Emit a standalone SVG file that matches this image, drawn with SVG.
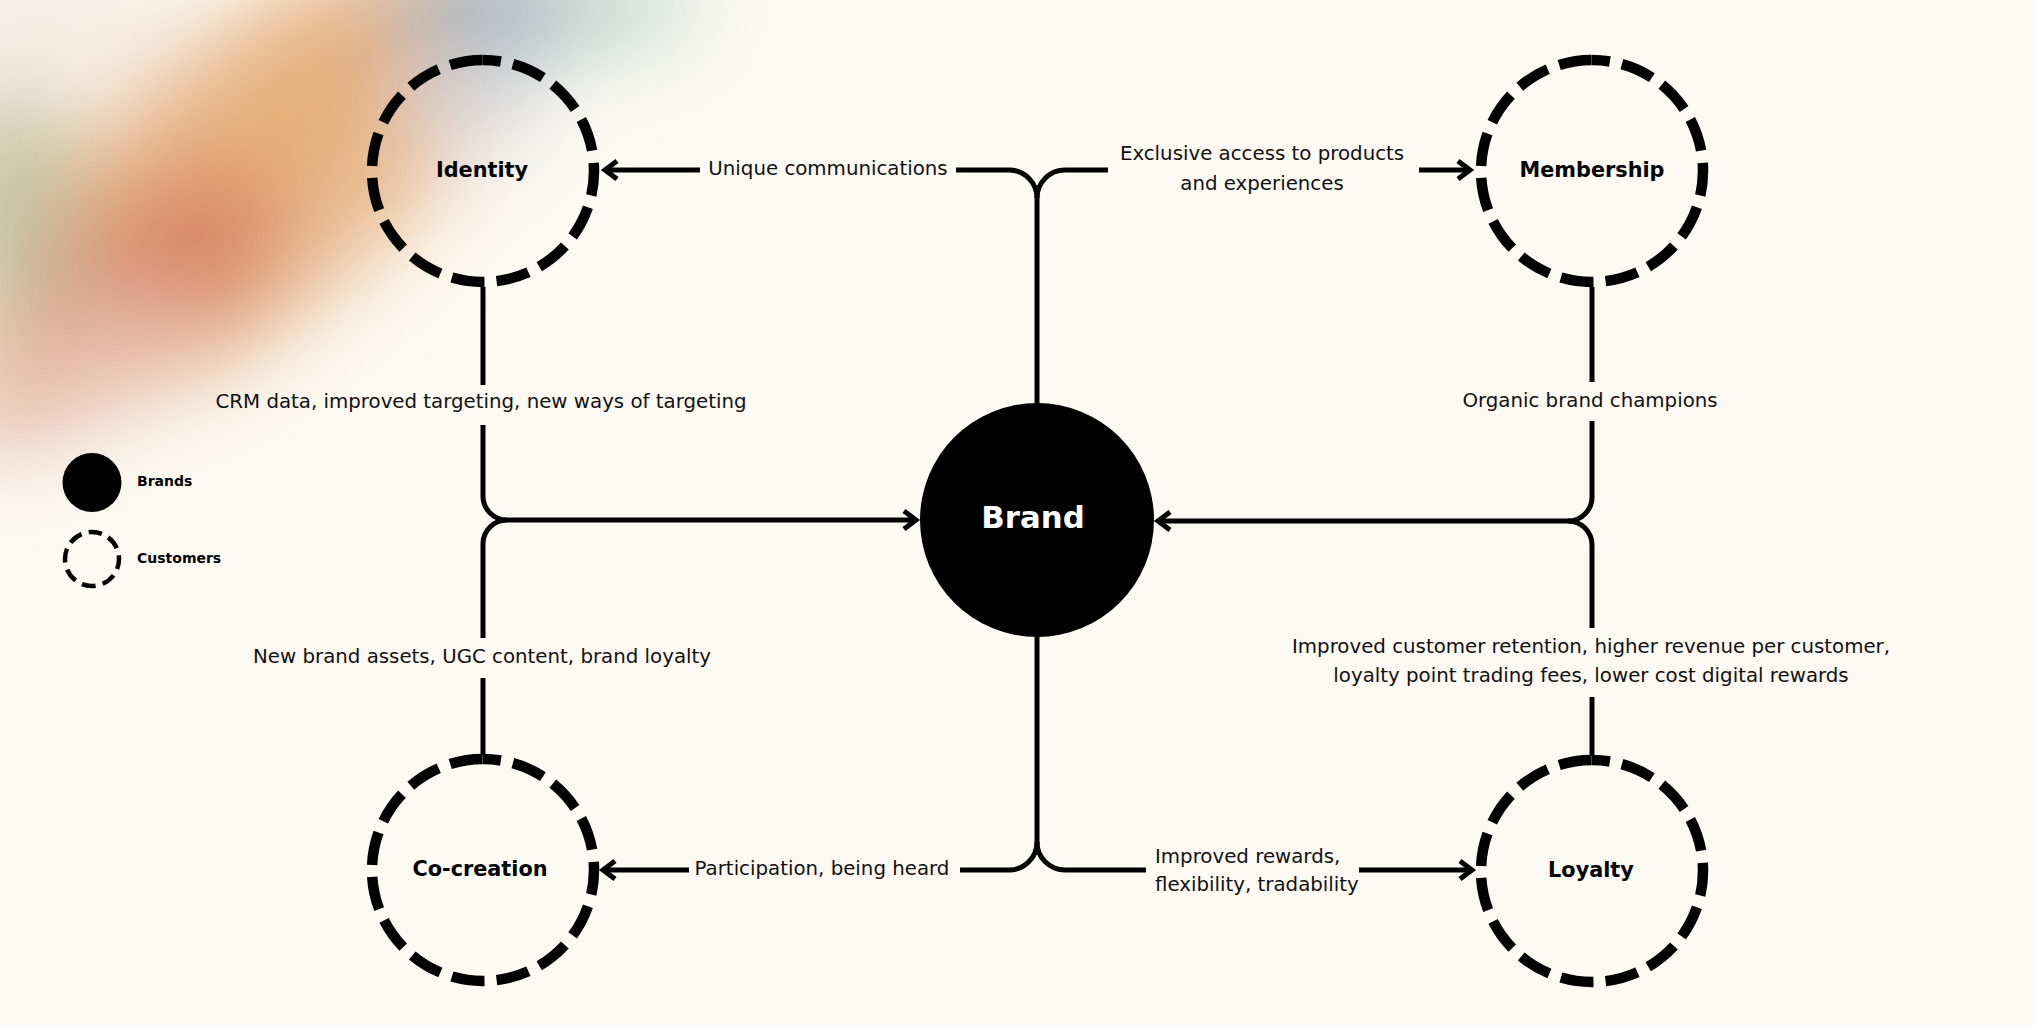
<svg xmlns="http://www.w3.org/2000/svg" width="2036" height="1026" viewBox="0 0 2036 1026">
  <defs>
    <filter id="blur" filterUnits="userSpaceOnUse" x="-300" y="-300" width="1300" height="1000">
      <feGaussianBlur stdDeviation="45"/>
    </filter>
    <marker id="arr" markerUnits="userSpaceOnUse" markerWidth="40" markerHeight="40" viewBox="-20 -20 40 40" refX="0" refY="0" orient="auto">
      <path d="M-12,-9 L0,0 L-12,9" fill="none" stroke="#000" stroke-width="5" stroke-linejoin="miter"/>
    </marker>
  </defs>
  <style>
    .bg { fill: #FCFAF3; }
    .cust { fill: none; stroke: #000; stroke-width: 10.5; stroke-dasharray: 33 12.23; stroke-dashoffset: 15; }
    .legcust { fill: none; stroke: #000; stroke-width: 4.5; stroke-dasharray: 14 7.2; stroke-dashoffset: 4; }
    .conn { fill: none; stroke: #000; stroke-width: 5; }
    .lbl { font-family: "DejaVu Sans", "Liberation Sans", sans-serif; font-size: 19.8px; fill: #111; text-anchor: middle; }
    .node { font-family: "DejaVu Sans", "Liberation Sans", sans-serif; font-size: 20.8px; font-weight: 700; fill: #000; text-anchor: middle; }
    .leg { font-family: "DejaVu Sans", "Liberation Sans", sans-serif; font-size: 14px; font-weight: 700; fill: #000; }
  </style>

  <rect class="bg" x="0" y="0" width="2036" height="1026"/>

  <!-- soft gradient blob -->
  <g id="blob" filter="url(#blur)">
    <ellipse cx="240" cy="185" rx="340" ry="140" transform="rotate(-38 240 185)" fill="#E8BA8E"/>
    <ellipse cx="320" cy="95" rx="170" ry="70" transform="rotate(-35 320 95)" fill="#E6B07C"/>
    <ellipse cx="150" cy="280" rx="150" ry="80" transform="rotate(-35 150 280)" fill="#D7815F"/>
    <ellipse cx="5" cy="200" rx="65" ry="120" fill="#C3C4A4"/>
    <ellipse cx="505" cy="8" rx="120" ry="50" fill="#9EADB8"/>
    <ellipse cx="615" cy="5" rx="80" ry="38" fill="#BDD0CA"/>
    <ellipse cx="50" cy="15" rx="120" ry="60" fill="#F6EBE2"/>
    <ellipse cx="70" cy="370" rx="140" ry="55" transform="rotate(-30 70 370)" fill="#E6BDAA"/>
    <ellipse cx="470" cy="100" rx="70" ry="55" fill="#D9D8DB"/>
  </g>

  <!-- connectors -->
  <g id="connectors">
    <!-- top: Brand -> Identity / Membership -->
    <path class="conn" d="M1037,403 V198 A28,28 0 0 0 1009,170 H956"/>
    <path class="conn" d="M1037,198 A28,28 0 0 1 1065,170 H1108"/>
    <path class="conn" d="M700,170 H605" marker-end="url(#arr)"/>
    <path class="conn" d="M1419,170 H1470" marker-end="url(#arr)"/>

    <!-- left: Identity / Co-creation -> Brand -->
    <path class="conn" d="M483,287 V385"/>
    <path class="conn" d="M483,425 V496 A24,24 0 0 0 507,520 H916" marker-end="url(#arr)"/>
    <path class="conn" d="M507,520 A24,24 0 0 0 483,544 V638"/>
    <path class="conn" d="M483,678 V755"/>

    <!-- right: Membership / Loyalty -> Brand -->
    <path class="conn" d="M1592,287 V382"/>
    <path class="conn" d="M1592,421 V497 A24,24 0 0 1 1568,521 H1158" marker-end="url(#arr)"/>
    <path class="conn" d="M1568,521 A24,24 0 0 1 1592,545 V628"/>
    <path class="conn" d="M1592,697 V756"/>

    <!-- bottom: Brand -> Co-creation / Loyalty -->
    <path class="conn" d="M1037,637 V842 A28,28 0 0 1 1009,870 H960"/>
    <path class="conn" d="M1037,842 A28,28 0 0 0 1065,870 H1146"/>
    <path class="conn" d="M689,870 H603" marker-end="url(#arr)"/>
    <path class="conn" d="M1359,870 H1472" marker-end="url(#arr)"/>

    <!-- edge labels -->
    <text class="lbl" x="828" y="175">Unique communications</text>
    <text class="lbl" x="1262" y="160">Exclusive access to products</text>
    <text class="lbl" x="1262" y="190">and experiences</text>
    <text class="lbl" x="481" y="408">CRM data, improved targeting, new ways of targeting</text>
    <text class="lbl" x="1590" y="407">Organic brand champions</text>
    <text class="lbl" x="1591" y="653">Improved customer retention, higher revenue per customer,</text>
    <text class="lbl" x="1591" y="682">loyalty point trading fees, lower cost digital rewards</text>
    <text class="lbl" x="482" y="663">New brand assets, UGC content, brand loyalty</text>
    <text class="lbl" x="822" y="875">Participation, being heard</text>
    <text class="lbl" x="1155" y="863" style="text-anchor:start">Improved rewards,</text>
    <text class="lbl" x="1155" y="891" style="text-anchor:start">flexibility, tradability</text>
  </g>

  <!-- nodes -->
  <g id="node-brand">
    <circle cx="1037" cy="520" r="117" fill="#000"/>
    <text x="1033" y="528" style="font-family: 'DejaVu Sans', 'Liberation Sans', sans-serif; font-size: 30.8px; font-weight: 700; fill: #fff; text-anchor: middle;">Brand</text>
  </g>
  <g id="node-identity">
    <circle class="cust" cx="483" cy="171" r="111" transform="rotate(-90 483 171)"/>
    <text class="node" x="482" y="177">Identity</text>
  </g>
  <g id="node-membership">
    <circle class="cust" cx="1592" cy="171" r="111" transform="rotate(-90 1592 171)"/>
    <text class="node" x="1592" y="177">Membership</text>
  </g>
  <g id="node-cocreation">
    <circle class="cust" cx="483" cy="870" r="111" transform="rotate(-90 483 870)"/>
    <text class="node" x="480" y="876">Co-creation</text>
  </g>
  <g id="node-loyalty">
    <circle class="cust" cx="1592" cy="871" r="111" transform="rotate(-90 1592 871)"/>
    <text class="node" x="1591" y="877">Loyalty</text>
  </g>

  <!-- legend -->
  <g id="legend">
    <circle cx="92" cy="482.5" r="29.5" fill="#000"/>
    <text class="leg" x="137" y="486">Brands</text>
    <circle class="legcust" cx="92" cy="559" r="27" transform="rotate(-90 92 559)"/>
    <text class="leg" x="137" y="563">Customers</text>
  </g>
</svg>
